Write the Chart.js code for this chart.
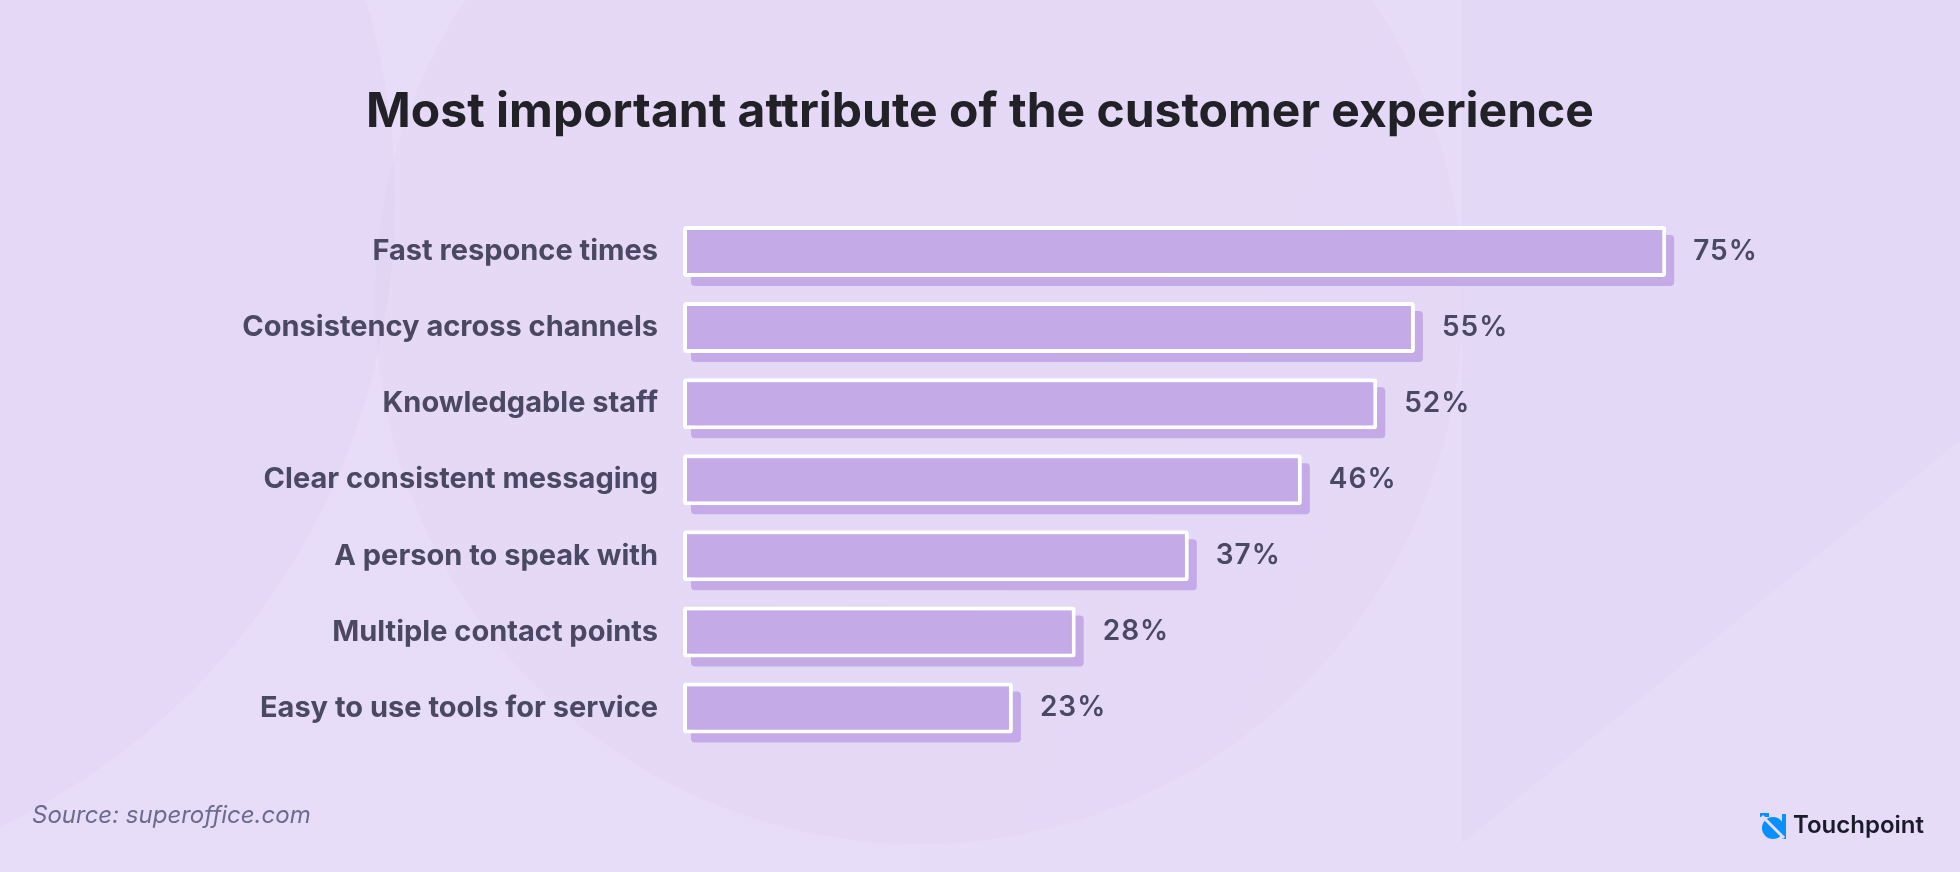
<!DOCTYPE html>
<html>
<head>
<meta charset="utf-8">
<script src="https://cdn.jsdelivr.net/npm/chart.js@4.4.1/dist/chart.umd.min.js"></script>
<style>
  html, body { margin: 0; padding: 0; background: #e7ddf7; }
  canvas { display: block; }
</style>
</head>
<body>
<canvas id="attrChart" width="1960" height="872"></canvas>
<script>
// dados do gráfico
const categorias = [
    'Fast responce times',
    'Consistency across channels',
    'Knowledgable staff',
    'Clear consistent messaging',
    'A person to speak with',
    'Multiple contact points',
    'Easy to use tools for service'
];
const valores = [75, 55, 52, 46, 37, 28, 23];
const titulo = 'Most important attribute of the customer experience';
const fonte = 'Source: superoffice.com';

const corBarra = '#c4abe8';
const corTexto = '#4a4862';
const baseEixo = -3.26;

// fundo com formas suaves
const fundoPlugin = {
    id: 'fundo',
    beforeDraw(chart) {
        const ctx = chart.ctx;
        const w = chart.width, h = chart.height;
        ctx.save();
        const grad = ctx.createLinearGradient(0, 0, w, h);
        grad.addColorStop(0, '#e8ddf8');
        grad.addColorStop(1, '#e6dcf7');
        ctx.fillStyle = grad;
        ctx.fillRect(0, 0, w, h);

        // círculo à esquerda
        ctx.fillStyle = 'rgba(214, 200, 240, 0.2)';
        ctx.beginPath();
        ctx.arc(-300, 200, 695, 0, Math.PI * 2);
        ctx.fill();

        // círculo grande atrás do gráfico
        ctx.fillStyle = 'rgba(214, 200, 240, 0.18)';
        ctx.beginPath();
        ctx.arc(919, 300, 544, 0, Math.PI * 2);
        ctx.fill();

        // forma triangular à direita
        ctx.fillStyle = 'rgba(214, 200, 240, 0.2)';
        ctx.beginPath();
        ctx.moveTo(1462, 0);
        ctx.lineTo(1960, 0);
        ctx.lineTo(1960, 440);
        ctx.lineTo(1462, 843);
        ctx.closePath();
        ctx.fill();
        ctx.restore();
    }
};

// sombra deslocada atrás de cada barra
const sombraPlugin = {
    id: 'sombra',
    beforeDatasetsDraw(chart) {
        const ctx = chart.ctx;
        const meta = chart.getDatasetMeta(0);
        ctx.save();
        ctx.fillStyle = corBarra;
        meta.data.forEach(bar => {
            const left = bar.base, right = bar.x;
            const top = bar.y - bar.height / 2, bottom = bar.y + bar.height / 2;
            ctx.beginPath();
            ctx.roundRect(left + 8, top + 9, right - left, bottom - top, 4);
            ctx.fill();
        });
        ctx.restore();
    }
};

// título, rótulos de valor, fonte e logotipo
const rotulosPlugin = {
    id: 'rotulos',
    afterDraw(chart) {
        const ctx = chart.ctx;
        const meta = chart.getDatasetMeta(0);
        ctx.save();
        ctx.textBaseline = 'middle';

        ctx.font = 'bold 48px Inter';
        ctx.fillStyle = '#222127';
        ctx.textAlign = 'center';
        ctx.fillText(titulo, chart.width / 2, 113);

        ctx.textAlign = 'left';
        ctx.font = '600 28px Inter';
        ctx.letterSpacing = '1px';
        ctx.fillStyle = corTexto;
        meta.data.forEach((bar, i) => {
            ctx.fillText(valores[i] + '%', bar.x + 27, bar.y);
        });
        ctx.letterSpacing = '0px';

        ctx.font = 'italic 400 24px Inter';
        ctx.fillStyle = '#6c6a8e';
        ctx.fillText(fonte, 32, 816);

        // logotipo Touchpoint
        ctx.fillStyle = '#0a8fff';
        ctx.beginPath();
        ctx.arc(1773, 828, 11, 0, Math.PI * 2);
        ctx.fill();
        ctx.fillRect(1760, 813, 9, 4);
        ctx.fillRect(1782, 814, 4, 25);
        ctx.strokeStyle = '#e7ddf7';
        ctx.lineWidth = 3;
        ctx.beginPath();
        ctx.moveTo(1762, 816);
        ctx.lineTo(1784, 838);
        ctx.stroke();

        ctx.font = '600 24px Inter';
        ctx.fillStyle = '#1b1a2b';
        ctx.fillText('Touchpoint', 1793, 826);
        ctx.restore();
    }
};

new Chart(document.getElementById('attrChart'), {
    type: 'bar',
    data: {
        labels: categorias,
        datasets: [{
            data: valores,
            base: baseEixo,
            backgroundColor: corBarra,
            borderColor: '#ffffff',
            borderWidth: 4,
            borderRadius: 3,
            borderSkipped: false,
            categoryPercentage: 1,
            barPercentage: 0.67
        }]
    },
    options: {
        indexAxis: 'y',
        responsive: false,
        animation: false,
        layout: {
            padding: { top: 213.5, bottom: 126, left: 0, right: 231 }
        },
        scales: {
            x: {
                display: false,
                min: baseEixo,
                max: 80
            },
            y: {
                grid: { display: false },
                border: { display: false },
                ticks: {
                    color: corTexto,
                    padding: 17,
                    font: { family: 'Inter', size: 29, weight: 'bold' }
                },
                afterFit: function (scale) {
                    scale.width = 683;
                }
            }
        },
        plugins: {
            legend: { display: false },
            tooltip: { enabled: false },
            title: { display: false }
        }
    },
    plugins: [fundoPlugin, sombraPlugin, rotulosPlugin]
});
</script>
</body>
</html>
